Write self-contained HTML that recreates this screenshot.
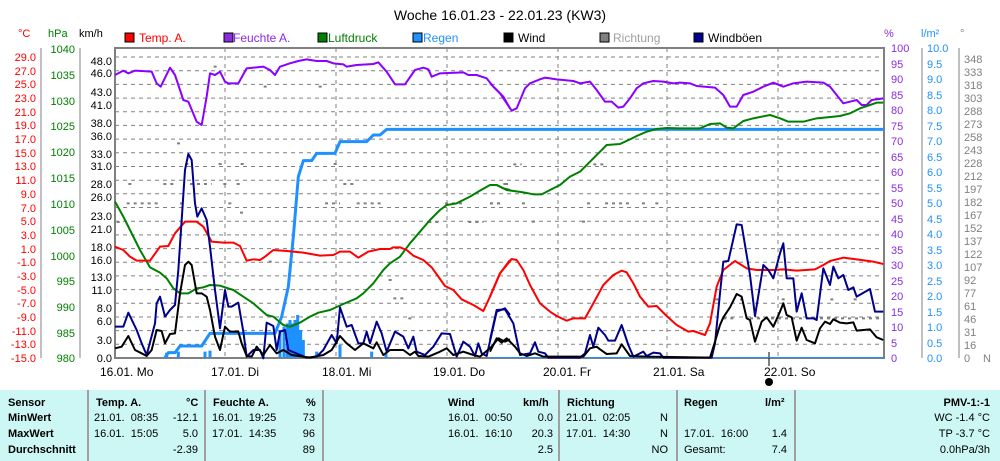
<!DOCTYPE html>
<html><head><meta charset="utf-8"><style>
html,body{margin:0;padding:0;background:#fff;}
body{width:1000px;height:461px;overflow:hidden;position:relative;font-family:"Liberation Sans",sans-serif;}
svg text{font-family:"Liberation Sans",sans-serif;}
.tb{position:absolute;left:0;top:390px;width:1000px;height:71px;background:#ccf7f4;font-size:11px;color:#000;}
.tb div{position:absolute;white-space:nowrap;}
.b{font-weight:bold;}
.sep{position:absolute;top:0;width:2px;height:71px;background:#a0a0a0;}
</style></head><body>
<svg width="1000" height="390" style="position:absolute;left:0;top:0" xmlns="http://www.w3.org/2000/svg">
<text x="500" y="20" font-size="14" text-anchor="middle">Woche 16.01.23 - 22.01.23 (KW3)</text>
<!-- axis headers -->
<text x="18" y="37" font-size="11" fill="#ff0000">°C</text>
<text x="48" y="37" font-size="11" fill="#008000">hPa</text>
<text x="79" y="37" font-size="11" fill="#000">km/h</text>
<text x="884" y="37" font-size="11" fill="#8a2be2">%</text>
<text x="921" y="37" font-size="11" fill="#1e90ff">l/m²</text>
<text x="960" y="37" font-size="11" fill="#808080">°</text>
<!-- legend -->
<g font-size="12">
<rect x="125" y="33" width="9" height="9" fill="#f00" stroke="#000"/><text x="139" y="42" fill="#f00">Temp. A.</text>
<rect x="224" y="33" width="9" height="9" fill="#8a2be2" stroke="#000"/><text x="233" y="42" fill="#8a2be2">Feuchte A.</text>
<rect x="318" y="33" width="9" height="9" fill="#008000" stroke="#000"/><text x="328" y="42" fill="#008000">Luftdruck</text>
<rect x="413" y="33" width="9" height="9" fill="#1e90ff" stroke="#000"/><text x="423" y="42" fill="#1e90ff">Regen</text>
<rect x="504" y="33" width="9" height="9" fill="#000" stroke="#000"/><text x="518" y="42" fill="#000">Wind</text>
<rect x="600" y="33" width="9" height="9" fill="#808080" stroke="#000"/><text x="613" y="42" fill="#a0a0a0">Richtung</text>
<rect x="694" y="33" width="9" height="9" fill="#00008b" stroke="#000"/><text x="708" y="42" fill="#000">Windböen</text>
</g>
<!-- gridlines -->
<g stroke="#808080" stroke-dasharray="4 4" stroke-width="1">
<line x1="115" y1="57" x2="884" y2="57"/><line x1="115" y1="70.7" x2="884" y2="70.7"/><line x1="115" y1="84.4" x2="884" y2="84.4"/><line x1="115" y1="98.1" x2="884" y2="98.1"/><line x1="115" y1="111.7" x2="884" y2="111.7"/><line x1="115" y1="125.4" x2="884" y2="125.4"/><line x1="115" y1="139.1" x2="884" y2="139.1"/><line x1="115" y1="152.8" x2="884" y2="152.8"/><line x1="115" y1="166.5" x2="884" y2="166.5"/><line x1="115" y1="180.2" x2="884" y2="180.2"/><line x1="115" y1="193.8" x2="884" y2="193.8"/><line x1="115" y1="207.5" x2="884" y2="207.5"/><line x1="115" y1="221.2" x2="884" y2="221.2"/><line x1="115" y1="234.9" x2="884" y2="234.9"/><line x1="115" y1="248.6" x2="884" y2="248.6"/><line x1="115" y1="262.3" x2="884" y2="262.3"/><line x1="115" y1="275.9" x2="884" y2="275.9"/><line x1="115" y1="289.6" x2="884" y2="289.6"/><line x1="115" y1="303.3" x2="884" y2="303.3"/><line x1="115" y1="317" x2="884" y2="317"/><line x1="115" y1="330.6" x2="884" y2="330.6"/><line x1="115" y1="344.3" x2="884" y2="344.3"/>
<line x1="225" y1="48" x2="225" y2="358"/><line x1="336" y1="48" x2="336" y2="358"/><line x1="447" y1="48" x2="447" y2="358"/><line x1="558" y1="48" x2="558" y2="358"/><line x1="667" y1="48" x2="667" y2="358"/><line x1="778" y1="48" x2="778" y2="358"/>
</g>
<!-- plot border -->
<rect x="115" y="48" width="769" height="310" fill="none" stroke="#808080" stroke-width="2"/>
<!-- left axes -->
<g stroke="#808080" stroke-width="1">
<line x1="41" y1="48" x2="41" y2="358"/><line x1="80" y1="48" x2="80" y2="358"/>
<line x1="922" y1="48" x2="922" y2="358"/><line x1="959" y1="48" x2="959" y2="358"/>
</g>
<g font-size="11" fill="#ff0000" text-anchor="end">
<text x="36" y="61">29.0</text><text x="36" y="75">27.0</text><text x="36" y="88">25.0</text><text x="36" y="102">23.0</text><text x="36" y="116">21.0</text><text x="36" y="129">19.0</text><text x="36" y="143">17.0</text><text x="36" y="157">15.0</text><text x="36" y="170">13.0</text><text x="36" y="184">11.0</text><text x="36" y="198">9.0</text><text x="36" y="212">7.0</text><text x="36" y="225">5.0</text><text x="36" y="239">3.0</text><text x="36" y="253">1.0</text><text x="36" y="266">-1.0</text><text x="36" y="280">-3.0</text><text x="36" y="294">-5.0</text><text x="36" y="307">-7.0</text><text x="36" y="321">-9.0</text><text x="36" y="335">-11.0</text><text x="36" y="348">-13.0</text><text x="36" y="362">-15.0</text>
</g>
<g font-size="11" fill="#008000" text-anchor="end">
<text x="75" y="53">1040</text><text x="75" y="79">1035</text><text x="75" y="105">1030</text><text x="75" y="130">1025</text><text x="75" y="156">1020</text><text x="75" y="182">1015</text><text x="75" y="208">1010</text><text x="75" y="234">1005</text><text x="75" y="260">1000</text><text x="75" y="285">995</text><text x="75" y="311">990</text><text x="75" y="337">985</text><text x="75" y="362">980</text>
</g>
<g font-size="11" fill="#000" text-anchor="end">
<text x="112" y="65">48.0</text><text x="112" y="77">46.0</text><text x="112" y="96">43.0</text><text x="112" y="109">41.0</text><text x="112" y="127">38.0</text><text x="112" y="140">36.0</text><text x="112" y="158">33.0</text><text x="112" y="170">31.0</text><text x="112" y="188">28.0</text><text x="112" y="201">26.0</text><text x="112" y="220">23.0</text><text x="112" y="233">21.0</text><text x="112" y="251">18.0</text><text x="112" y="264">16.0</text><text x="112" y="281">13.0</text><text x="112" y="294">11.0</text><text x="112" y="312">8.0</text><text x="112" y="325">6.0</text><text x="112" y="344">3.0</text><text x="112" y="362">0.0</text>
</g>
<g font-size="11" fill="#8a2be2">
<text x="891" y="52">100</text><text x="891" y="68">95</text><text x="891" y="83">90</text><text x="891" y="99">85</text><text x="891" y="114">80</text><text x="891" y="130">75</text><text x="891" y="145">70</text><text x="891" y="161">65</text><text x="891" y="176">60</text><text x="891" y="192">55</text><text x="891" y="207">50</text><text x="891" y="223">45</text><text x="891" y="238">40</text><text x="891" y="254">35</text><text x="891" y="269">30</text><text x="891" y="285">25</text><text x="891" y="300">20</text><text x="891" y="316">15</text><text x="891" y="331">10</text><text x="891" y="347">5</text><text x="891" y="362">0</text>
</g>
<g font-size="11" fill="#1e90ff">
<text x="927" y="52">10.0</text><text x="927" y="68">9.5</text><text x="927" y="83">9.0</text><text x="927" y="99">8.5</text><text x="927" y="114">8.0</text><text x="927" y="130">7.5</text><text x="927" y="145">7.0</text><text x="927" y="161">6.5</text><text x="927" y="176">6.0</text><text x="927" y="192">5.5</text><text x="927" y="207">5.0</text><text x="927" y="223">4.5</text><text x="927" y="238">4.0</text><text x="927" y="254">3.5</text><text x="927" y="269">3.0</text><text x="927" y="285">2.5</text><text x="927" y="300">2.0</text><text x="927" y="316">1.5</text><text x="927" y="331">1.0</text><text x="927" y="347">0.5</text><text x="927" y="362">0.0</text>
</g>
<g font-size="11" fill="#808080">
<text x="964" y="63">348</text><text x="964" y="76">333</text><text x="964" y="89">318</text><text x="964" y="102">303</text><text x="964" y="115">288</text><text x="964" y="128">273</text><text x="964" y="141">258</text><text x="964" y="154">243</text><text x="964" y="167">228</text><text x="964" y="180">212</text><text x="964" y="193">197</text><text x="964" y="206">182</text><text x="964" y="219">167</text><text x="964" y="232">152</text><text x="964" y="245">137</text><text x="964" y="258">122</text><text x="964" y="271">107</text><text x="964" y="284">92</text><text x="964" y="297">77</text><text x="964" y="310">61</text><text x="964" y="323">46</text><text x="964" y="336">31</text><text x="964" y="349">16</text><text x="964" y="362">0</text><text x="983" y="362">N</text>
</g>
<!-- x labels -->
<g font-size="12" fill="#000">
<text x="100" y="376">16.01. Mo</text><text x="211" y="376">17.01. Di</text><text x="322" y="376">18.01. Mi</text><text x="433" y="376">19.01. Do</text><text x="543" y="376">20.01. Fr</text><text x="653" y="376">21.01. Sa</text><text x="764" y="376">22.01. So</text>
</g>
<line x1="769" y1="352" x2="769" y2="366" stroke="#000"/>
<circle cx="769" cy="382" r="4" fill="#000"/>
<!-- series group 1 -->
<g transform="translate(110,30) scale(0.33333)" fill="none" stroke-linejoin="round">
<g stroke="#808080" stroke-width="2" stroke-dasharray="3 4" vector-effect="non-scaling-stroke">
<path vector-effect="non-scaling-stroke" d="M55 462H70M160 462H195M240 462H305M340 462H350M380 462H390M700 462H735M1180 462H1200M50 520H155M210 520H220M355 520H375M645 520H690M740 520H815M1005 520H1065M1140 520H1175M20 576H40M955 576H995M1075 576H1120M226 402H236M326 402H336M392 402H402M671 402H681M201 340H211M311 110H321M461 170H471M626 170H636M476 695H486M836 750H846M850 805H885M895 865H915M390 548H400"/>
</g>
<polyline vector-effect="non-scaling-stroke" stroke="#1e90ff" stroke-width="3" points="165,983 175,968 195,968 210,948 275,948 300,910 495,910 515,860 535,770 550,620 565,440 580,392 605,392 620,370 675,370 690,335 770,335 790,315 810,315 830,298 1200,298"/>
<path vector-effect="non-scaling-stroke" stroke="#1e90ff" stroke-width="3" d="M170 983V968M205 983V965M285 983V965M300 983V962M510 983V900M522 983V890M532 983V880M540 983V870M548 983V880M555 983V870M563 983V855M572 983V900M580 983V930M620 983V965M690 983V945M785 983V965M828 983V968"/>
<polyline vector-effect="non-scaling-stroke" stroke="#8b00ff" stroke-width="2" points="15,135 40,122 55,130 75,122 125,125 140,160 152,170 180,113 195,135 220,210 235,215 260,275 275,285 290,200 300,130 315,135 330,125 345,155 355,160 385,160 410,115 440,112 460,110 480,120 495,135 510,110 540,100 565,93 590,88 620,93 650,93 670,100 700,103 710,110 740,105 790,102 805,97 830,125 855,163 885,163 915,120 940,113 955,118 965,140 990,130 1060,127 1075,135 1100,135 1130,145 1150,170 1180,200 1200,235"/>
<polyline vector-effect="non-scaling-stroke" stroke="#008000" stroke-width="2" points="15,515 40,560 60,600 90,660 120,712 150,728 170,745 190,775 210,790 235,790 260,775 280,772 300,765 330,767 370,780 400,800 430,820 470,855 490,860 520,885 540,890 570,878 600,860 625,848 660,840 700,822 740,805 760,790 790,760 820,720 840,700 870,680 900,640 930,605 960,570 990,540 1010,525 1040,520 1080,500 1110,482 1140,465 1160,465 1180,475 1200,480"/>
<polyline vector-effect="non-scaling-stroke" stroke="#ff0000" stroke-width="2" points="15,650 40,660 60,680 80,692 120,692 150,650 175,648 195,610 225,575 260,575 280,590 305,635 340,638 370,638 390,648 410,692 430,688 450,690 465,680 490,660 530,663 580,668 630,677 670,675 690,665 720,665 745,683 775,665 810,657 840,657 850,652 870,652 890,660 910,677 940,690 965,712 1005,768 1030,780 1055,808 1090,825 1120,843 1140,800 1170,730 1200,690"/>
<polyline vector-effect="non-scaling-stroke" stroke="#00008b" stroke-width="2" points="15,890 40,890 55,848 80,900 95,940 110,975 135,880 140,820 150,800 165,860 180,840 195,825 205,720 215,570 225,420 235,372 245,390 255,520 262,560 275,535 290,570 300,650 315,780 330,895 345,780 355,830 365,830 385,818 400,905 410,980 430,960 450,960 460,985 470,878 490,888 500,960 510,905 525,900 535,960 590,983 620,980 640,960 665,915 680,940 690,832 710,890 725,885 745,940 760,940 770,905 780,940 800,875 815,910 830,965 855,905 880,920 895,955 910,920 920,965 945,975 970,950 995,910 1020,912 1040,980 1060,935 1080,950 1095,978 1105,940 1115,970 1130,978 1160,845 1185,835 1200,855"/>
<polyline vector-effect="non-scaling-stroke" stroke="#000" stroke-width="2" points="15,955 35,950 55,918 75,960 95,970 110,978 125,960 140,900 155,903 165,940 180,912 195,910 210,790 225,705 235,695 245,705 260,790 275,790 290,800 300,840 315,920 330,960 345,890 360,905 385,905 395,940 410,978 425,980 440,950 460,975 480,945 500,970 520,960 545,975 600,983 640,975 665,960 690,918 710,940 735,960 760,940 790,955 800,937 820,975 840,960 880,960 900,975 915,965 925,978 955,980 990,965 1010,955 1030,975 1060,965 1090,975 1110,980 1145,950 1165,925 1185,935 1200,928"/>
</g>
<!-- series group 2 -->
<g transform="translate(490,30) scale(0.33333)" fill="none" stroke-linejoin="round">
<path vector-effect="non-scaling-stroke" stroke="#808080" stroke-width="2" stroke-dasharray="3 4" d="M70 403H95M310 403H340M45 462H65M0 520H35M96 520H106M291 520H301M345 520H420M456 520H466M496 520H506M126 575H136M276 575H286M676 808H686M750 808H770M875 808H890M1021 808H1031M1091 808H1101M700 865H740M780 865H1180"/>
<polyline vector-effect="non-scaling-stroke" stroke="#1e90ff" stroke-width="3" points="0,298 1180,298"/>
<line vector-effect="non-scaling-stroke" stroke="#1e90ff" stroke-width="1" x1="0" y1="983" x2="1180" y2="983"/>
<polyline vector-effect="non-scaling-stroke" stroke="#8b00ff" stroke-width="2" points="0,160 30,190 65,242 80,235 105,175 120,160 150,148 165,143 200,148 250,153 270,160 300,155 320,180 345,215 365,215 385,233 400,230 420,205 440,175 460,160 490,153 520,155 550,160 570,158 600,160 620,168 675,173 700,195 720,230 740,230 760,195 790,185 820,170 850,158 880,170 910,160 950,155 1000,158 1020,170 1060,220 1080,215 1100,210 1115,225 1130,225 1145,210 1180,205"/>
<polyline vector-effect="non-scaling-stroke" stroke="#008000" stroke-width="2" points="0,465 20,465 50,480 100,487 130,493 155,493 180,480 210,465 240,440 270,425 300,395 330,365 350,345 390,342 420,328 440,318 470,305 500,297 530,294 570,295 630,295 660,282 690,280 710,293 730,295 760,273 790,265 840,255 870,265 895,275 940,275 980,265 1010,262 1050,258 1080,250 1110,235 1140,225 1160,218 1180,218"/>
<polyline vector-effect="non-scaling-stroke" stroke="#ff0000" stroke-width="2" points="0,800 30,730 65,687 80,690 100,720 120,765 150,820 180,845 200,858 230,872 250,865 285,865 310,820 340,765 370,735 395,722 410,727 430,760 450,800 475,830 500,828 530,858 560,885 595,905 610,903 645,915 660,880 680,770 700,720 735,693 770,715 800,720 850,720 880,718 920,722 975,718 1000,705 1020,693 1060,683 1100,688 1150,695 1180,702"/>
<polyline vector-effect="non-scaling-stroke" stroke="#00008b" stroke-width="2" points="0,930 20,840 45,838 70,880 90,975 120,970 135,937 145,965 165,970 175,983 270,983 285,970 300,915 310,950 325,893 345,915 355,932 375,932 395,885 415,945 430,980 460,965 470,978 490,968 510,970 520,983 665,983 675,940 690,790 700,695 715,693 740,583 755,585 780,735 795,858 820,705 835,720 850,745 870,670 880,640 890,745 910,745 920,845 935,790 950,865 970,865 980,870 1000,715 1020,765 1030,710 1045,745 1060,735 1075,780 1090,772 1100,800 1140,777 1155,845 1180,845"/>
<polyline vector-effect="non-scaling-stroke" stroke="#000" stroke-width="2" points="0,965 20,925 35,938 50,925 75,950 90,970 110,978 135,970 160,980 280,980 300,955 320,950 330,958 350,972 380,970 395,943 420,978 470,980 660,983 675,935 690,885 700,862 720,832 740,792 755,800 770,865 780,870 795,935 815,875 830,862 850,890 870,845 880,820 890,855 905,862 920,932 935,893 950,930 975,940 990,895 1005,875 1020,882 1030,868 1050,878 1070,880 1090,877 1100,902 1140,898 1160,922 1180,930"/>
</g>
</svg>
<div class="tb">
<div class="sep" style="left:87px"></div><div class="sep" style="left:204px"></div><div class="sep" style="left:322px"></div><div class="sep" style="left:558px"></div><div class="sep" style="left:676px"></div><div class="sep" style="left:794px"></div>
<div class="b" style="left:8px;top:7px">Sensor</div>
<div class="b" style="left:8px;top:22px">MinWert</div>
<div class="b" style="left:8px;top:38px">MaxWert</div>
<div class="b" style="left:8px;top:54px">Durchschnitt</div>
<div class="b" style="left:96px;top:7px">Temp. A.</div><div class="b" style="left:186px;top:7px">°C</div>
<div style="left:94px;top:22px">21.01.&nbsp; 08:35</div><div style="right:802px;top:22px">-12.1</div>
<div style="left:94px;top:38px">16.01.&nbsp; 15:05</div><div style="right:802px;top:38px">5.0</div>
<div style="right:802px;top:54px">-2.39</div>
<div class="b" style="left:213px;top:7px">Feuchte A.</div><div class="b" style="left:306px;top:7px">%</div>
<div style="left:212px;top:22px">16.01.&nbsp; 19:25</div><div style="right:685px;top:22px">73</div>
<div style="left:212px;top:38px">17.01.&nbsp; 14:35</div><div style="right:685px;top:38px">96</div>
<div style="right:685px;top:54px">89</div>
<div class="b" style="left:448px;top:7px">Wind</div><div class="b" style="left:523px;top:7px">km/h</div>
<div style="left:448px;top:22px">16.01.&nbsp; 00:50</div><div style="right:447px;top:22px">0.0</div>
<div style="left:448px;top:38px">16.01.&nbsp; 16:10</div><div style="right:447px;top:38px">20.3</div>
<div style="right:447px;top:54px">2.5</div>
<div class="b" style="left:567px;top:7px">Richtung</div>
<div style="left:566px;top:22px">21.01.&nbsp; 02:05</div><div style="right:332px;top:22px">N</div>
<div style="left:566px;top:38px">17.01.&nbsp; 14:30</div><div style="right:332px;top:38px">N</div>
<div style="right:332px;top:54px">NO</div>
<div class="b" style="left:684px;top:7px">Regen</div><div class="b" style="left:765px;top:7px">l/m²</div>
<div style="left:684px;top:38px">17.01.&nbsp; 16:00</div><div style="right:213px;top:38px">1.4</div>
<div style="left:684px;top:54px">Gesamt:</div><div style="right:213px;top:54px">7.4</div>
<div class="b" style="right:10px;top:7px">PMV-1:-1</div>
<div style="right:10px;top:22px">WC -1.4 °C</div>
<div style="right:10px;top:38px">TP -3.7 °C</div>
<div style="right:10px;top:54px">0.0hPa/3h</div>
</div>
</body></html>
